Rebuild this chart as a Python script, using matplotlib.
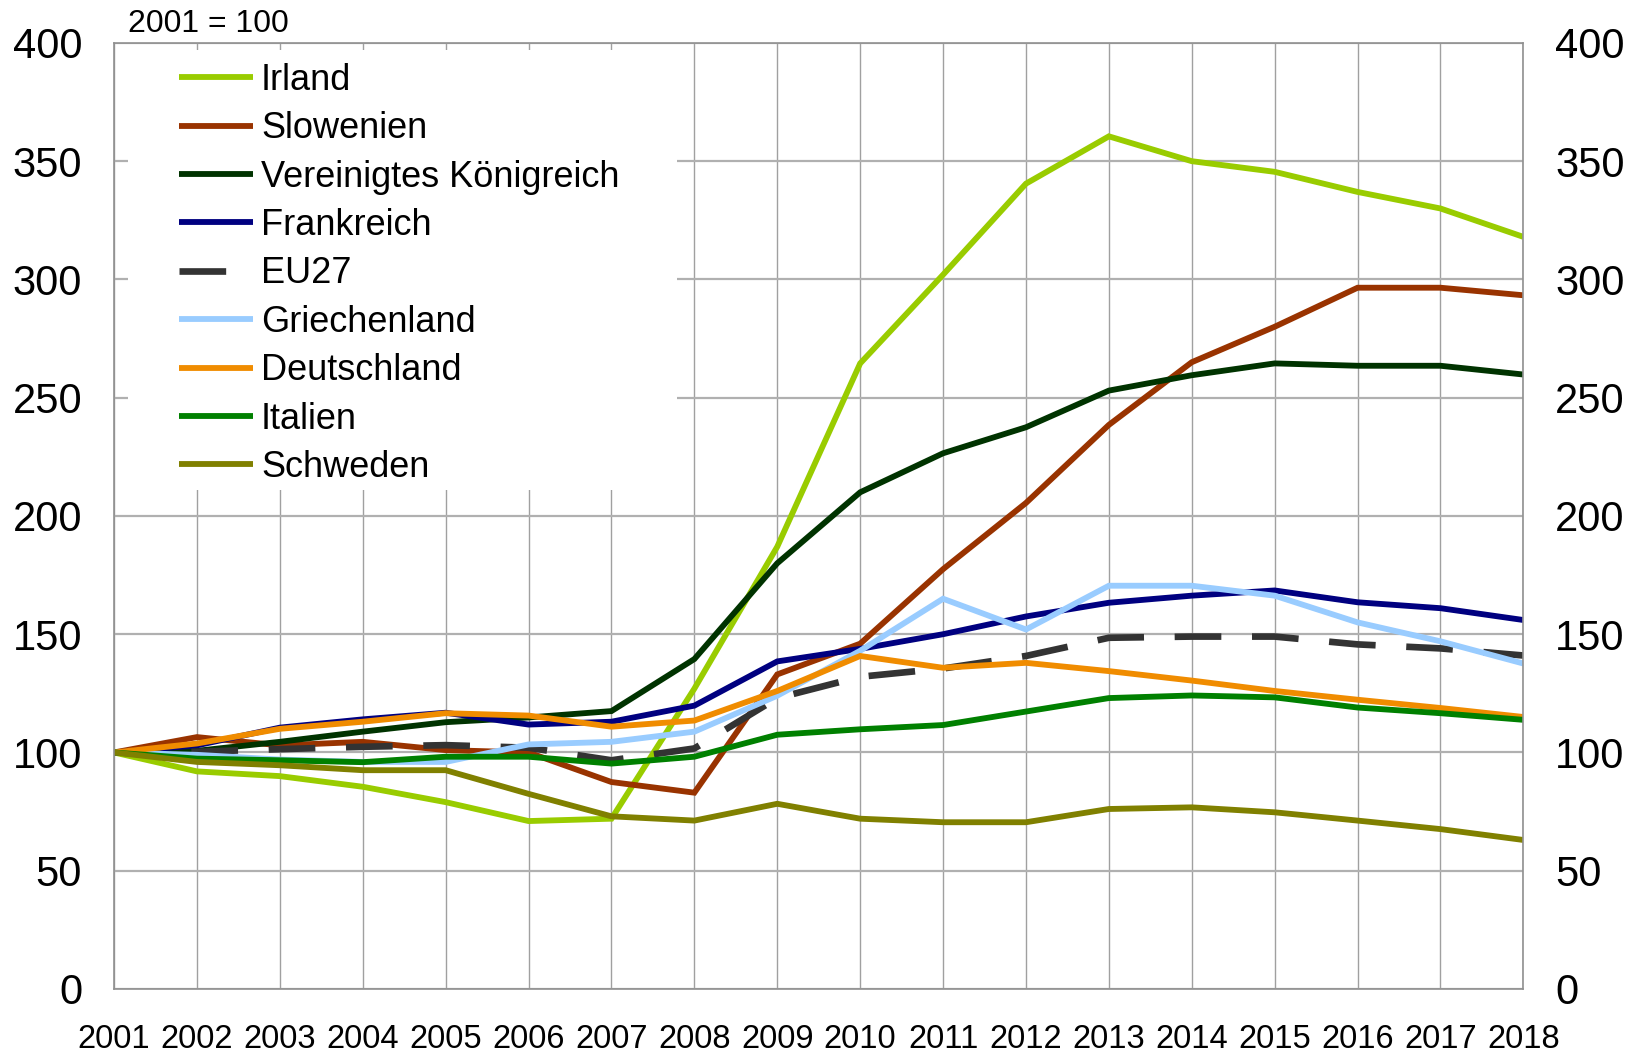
import matplotlib.pyplot as plt
from matplotlib.patches import Rectangle

plt.rcParams['font.family'] = ['Liberation Sans', 'DejaVu Sans']

years = list(range(2001, 2019))

irland = [100, 92, 90, 85.5, 79, 71, 72, 127, 187, 264.5, 302, 340.5, 360.5, 350, 345.5, 337, 330, 318]
slowenien = [100, 106.5, 103, 104.5, 101, 100, 87.5, 83, 133, 146, 177.5, 205.5, 238.5, 265, 280, 296.5, 296.5, 293.3]
uk = [100, 100.7, 104.5, 108.8, 112.8, 114.8, 117.5, 139.5, 180, 210, 226.5, 237.5, 253, 259.5, 264.5, 263.5, 263.5, 259.8]
frankreich = [100, 103, 110.5, 114, 116.8, 111.8, 113, 119.8, 138.5, 143.8, 150, 157.5, 163.3, 166.3, 168.5, 163.5, 161, 156]
eu27 = [100, 100.3, 101.4, 102.4, 103.1, 102, 96.7, 101.7, 123, 132, 135.5, 140.8, 148.5, 149, 149, 145.7, 144, 141]
griechenland = [100, 99, 97, 96, 96, 103.4, 104.5, 108.8, 124, 143, 165, 152, 170.5, 170.5, 166.3, 155, 147, 137.6]
deutschland = [100, 103.8, 110, 113, 116.6, 115.6, 110.9, 113.5, 126, 140.8, 135.8, 137.9, 134.4, 130.4, 126, 122.3, 118.8, 115]
italien = [100, 97.4, 96.7, 95.9, 98.2, 98.2, 95.3, 98.2, 107.5, 109.8, 111.6, 117.3, 123, 124.1, 123.3, 119, 116.6, 113.8]
schweden = [100, 96, 94.6, 92.5, 92.5, 82.5, 73, 71.2, 78.3, 72, 70.5, 70.5, 76.1, 76.8, 74.7, 71.2, 67.6, 63]

series = [
    ('Irland', irland, '#99CC00', '-'),
    ('Slowenien', slowenien, '#993300', '-'),
    ('Vereinigtes Königreich', uk, '#003300', '-'),
    ('Frankreich', frankreich, '#000080', '-'),
    ('EU27', eu27, '#333333', '--'),
    ('Griechenland', griechenland, '#99CCFF', '-'),
    ('Deutschland', deutschland, '#F08C00', '-'),
    ('Italien', italien, '#008000', '-'),
    ('Schweden', schweden, '#808000', '-'),
]

fig = plt.figure(figsize=(16.34, 10.52), dpi=100)
ax = fig.add_axes([0.0698, 0.0599, 0.8625, 0.8993])

for name, values, color, style in series:
    if style == '--':
        ax.plot(years, values, color=color, lw=4.8, dashes=(7.0, 4.6), label=name, zorder=2)
    else:
        ax.plot(years, values, color=color, lw=4.2, label=name, zorder=2,
                solid_joinstyle='miter', solid_capstyle='butt')

ax.set_xlim(2001, 2018)
ax.set_ylim(0, 400)
ax.set_xticks(years)
ax.set_yticks(range(0, 401, 50))
ax.tick_params(axis='both', length=0)
ax.tick_params(axis='y', labelsize=30, pad=23, labelleft=True, labelright=True)
ax.tick_params(axis='x', labelsize=23.5, pad=25)

ax.set_axisbelow(True)
ax.grid(axis='x', color='#a0a0a0', lw=1.0)
ax.grid(axis='y', color='#b0b0b0', lw=1.6)
for spine in ax.spines.values():
    spine.set_color('#909090')
    spine.set_linewidth(1.2)

# weisser Kasten hinter der Legende verdeckt das Gitter
ax.add_patch(Rectangle((2001.17, 211), 6.62, 186, facecolor='white', edgecolor='none', zorder=1))

ax.legend(loc='upper left', bbox_to_anchor=(179 / 1634, 1 - 63 / 1052), bbox_transform=fig.transFigure,
          frameon=False, fontsize=26, handlelength=2.05, handletextpad=0.22, labelspacing=0.37,
          borderpad=0, borderaxespad=0)

fig.text(128 / 1634, 1 - 32 / 1052, '2001 = 100', fontsize=23, va='baseline', ha='left')

fig.savefig('out.png', dpi=100)
